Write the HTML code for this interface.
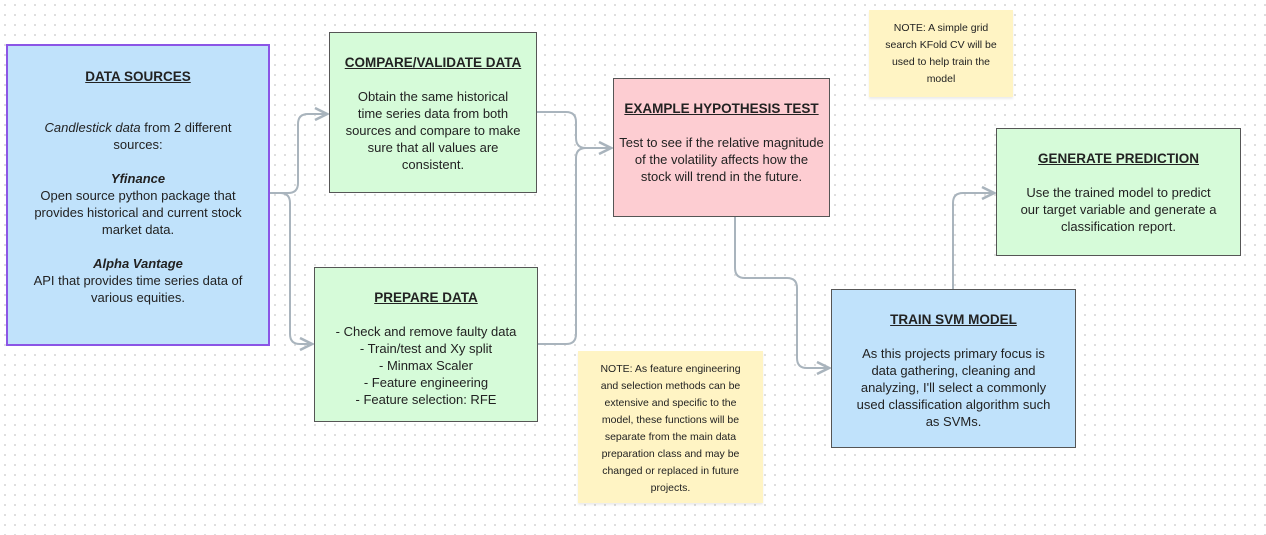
<!DOCTYPE html>
<html><head><style>
body{margin:0;width:1266px;height:535px;overflow:hidden;background:#fff;background-image:radial-gradient(#dcdcdc 1px,transparent 1.2px);background-size:10px 10px;font-family:"Liberation Sans",sans-serif;color:#222;}
.b{position:absolute;box-sizing:border-box;border:1.5px solid #555;text-align:center;font-size:13px;line-height:17px;}
.t{text-decoration:underline;font-weight:bold;font-size:13.5px;}
.n{position:absolute;box-sizing:border-box;background:#fff4c4;text-align:center;font-size:10.5px;line-height:17px;box-shadow:0 2px 2px rgba(0,0,0,.08);}
</style></head><body>
<svg width="1266" height="535" style="position:absolute;left:0;top:0">
<defs><marker id="a" markerWidth="8" markerHeight="8" refX="7" refY="4" orient="auto"><path d="M1,1 L7,4 L1,7" fill="none" stroke="#a9b4bd" stroke-width="1.3"/></marker></defs>
<g fill="none" stroke="#a9b4bd" stroke-width="2">
<path d="M270,193 H288 Q298,193 298,183 V124 Q298,114 308,114 H327" marker-end="url(#a)"/>
<path d="M270,193 H280 Q290,193 290,203 V334 Q290,344 300,344 H312" marker-end="url(#a)"/>
<path d="M536,112 H566 Q576,112 576,122 V138 Q576,148 586,148 H611" marker-end="url(#a)"/>
<path d="M537,344 H566 Q576,344 576,334 V158 Q576,148 586,148"/>
<path d="M735,216 V268 Q735,278 745,278 H787 Q797,278 797,288 V358 Q797,368 807,368 H829" marker-end="url(#a)"/>
<path d="M953,289 V203 Q953,193 963,193 H994" marker-end="url(#a)"/>
</g></svg>
<div class="b" style="left:6px;top:44px;width:264px;height:302px;background:#c0e2fb;border:2px solid #8b55e6;padding-top:22px">
<div class="t">DATA SOURCES</div><br><br>
<i>Candlestick data</i> from 2 different<br>sources:<br><br>
<b><i>Yfinance</i></b><br>Open source python package that<br>provides historical and current stock<br>market data.<br><br>
<b><i>Alpha Vantage</i></b><br>API that provides time series data of<br>various equities.</div>
<div class="b" style="left:329px;top:32px;width:208px;height:161px;background:#d6fbd9;padding-top:21px">
<div class="t">COMPARE/VALIDATE DATA</div><br>Obtain the same historical<br>time series data from both<br>sources and compare to make<br>sure that all values are<br>consistent.</div>
<div class="b" style="left:314px;top:267px;width:224px;height:155px;background:#d6fbd9;padding-top:21px">
<div class="t">PREPARE DATA</div><br>- Check and remove faulty data<br>- Train/test and Xy split<br>- Minmax Scaler<br>- Feature engineering<br>- Feature selection: RFE</div>
<div class="b" style="left:613px;top:78px;width:217px;height:139px;background:#fdcdd2;padding-top:21px">
<div class="t">EXAMPLE HYPOTHESIS TEST</div><br>Test to see if the relative magnitude<br>of the volatility affects how the<br>stock will trend in the future.</div>
<div class="b" style="left:996px;top:128px;width:245px;height:128px;background:#d6fbd9;padding-top:21px">
<div class="t">GENERATE PREDICTION</div><br>Use the trained model to predict<br>our target variable and generate a<br>classification report.</div>
<div class="b" style="left:831px;top:289px;width:245px;height:159px;background:#c0e2fb;padding-top:21px">
<div class="t">TRAIN SVM MODEL</div><br>As this projects primary focus is<br>data gathering, cleaning and<br>analyzing, I'll select a commonly<br>used classification algorithm such<br>as SVMs.</div>
<div class="n" style="left:869px;top:10px;width:144px;height:87px;padding-top:10px">NOTE: A simple grid<br>search KFold CV will be<br>used to help train the<br>model</div>
<div class="n" style="left:578px;top:351px;width:185px;height:152px;padding-top:10px">NOTE: As feature engineering<br>and selection methods can be<br>extensive and specific to the<br>model, these functions will be<br>separate from the main data<br>preparation class and may be<br>changed or replaced in future<br>projects.</div>
</body></html>
